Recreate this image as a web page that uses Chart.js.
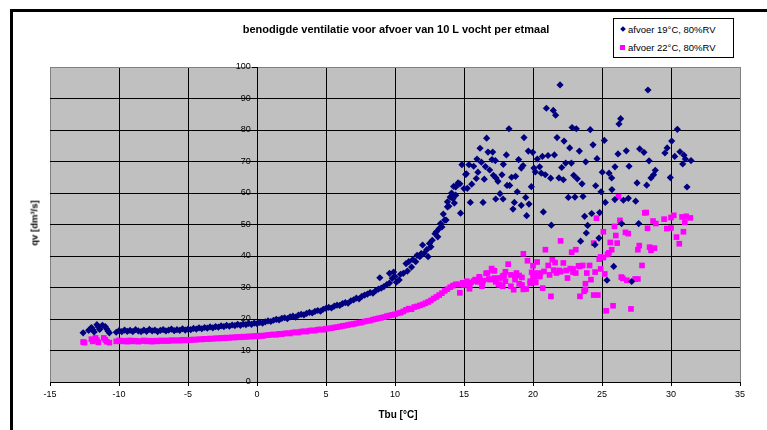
<!DOCTYPE html>
<html>
<head>
<meta charset="utf-8">
<title>benodigde ventilatie voor afvoer van 10 L vocht per etmaal</title>
<script src="https://cdn.jsdelivr.net/npm/chart.js@4/dist/chart.umd.min.js"></script>
<style>
  html, body { margin: 0; padding: 0; background: #fff; }
  #wrap { position: relative; width: 767px; height: 430px; overflow: hidden;
          font-family: "Liberation Sans", Arial, sans-serif; color: #000; }
  #frame { position: absolute; left: 10px; top: 9px; width: 800px; height: 500px;
           border: 3px solid #000; box-sizing: border-box; }
  #c { position: absolute; left: 0; top: 0; }
  #title { position: absolute; left: 0; top: 23px; width: 792px; text-align: center;
           font-weight: bold; font-size: 11px; white-space: nowrap; }
  #ytitle { position: absolute; left: 34px; top: 223px; font-weight: bold; font-size: 9.5px;
            white-space: nowrap; transform: translate(-50%, -50%) rotate(-90deg); }
  #xtitle { position: absolute; left: 398px; top: 414px; font-weight: bold; font-size: 10px;
            white-space: nowrap; transform: translate(-50%, -50%); }
  #legend { position: absolute; left: 613px; top: 18px; width: 121px; height: 40px;
            border: 1px solid #000; background: #fff; box-sizing: border-box;
            font-size: 9.5px; }
  .item { position: absolute; left: 6px; white-space: nowrap; line-height: 11px; }
  .mk { display: inline-block; vertical-align: middle; margin-right: 3px; position: relative; top: -1px; }
  .dia { width: 4px; height: 4px; background: #000080; transform: rotate(45deg); margin-left: 1px; }
  .sq { width: 5px; height: 5px; background: #ff00ff; }
</style>
</head>
<body>
<div id="wrap">
  <div id="frame"></div>
  <canvas id="c" width="767" height="430"></canvas>
  <div id="title">benodigde ventilatie voor afvoer van 10 L vocht per etmaal</div>
  <div id="ytitle">qv [dm³/s]</div>
  <div id="xtitle">Tbu [°C]</div>
  <div id="legend">
    <div class="item" style="top:5px"><span class="mk dia"></span>afvoer 19°C, 80%RV</div>
    <div class="item" style="top:23px"><span class="mk sq"></span>afvoer 22°C, 80%RV</div>
  </div>
</div>
<script>
// Axis ticks
const tbuTicks = [-15, -10, -5, 0, 5, 10, 15, 20, 25, 30, 35];
const qvTicks = [0, 10, 20, 30, 40, 50, 60, 70, 80, 90, 100];

// Series labels
const seriesNames = ['afvoer 19°C, 80%RV', 'afvoer 22°C, 80%RV'];

// afvoer 19°C, 80%RV : [Tbu °C, qv dm³/s]
const afvoer19 = [
  [-12.6,15.6],[-12.2,16.4],[-12.0,17.3],[-11.9,16.6],[-11.8,15.9],[-11.6,18.2],[-11.5,17.5],[-11.4,16.7],
  [-11.2,18.0],[-11.0,17.6],[-10.9,16.9],[-10.8,16.2],[-10.7,15.6],
  [-10.2,15.8],[-10.0,16.3],[-9.8,16.0],[-9.6,16.5],[-9.4,16.1],[-9.2,16.4],[-9.0,16.0],[-8.8,16.6],
  [-8.6,16.2],[-8.4,16.0],[-8.2,16.5],[-8.0,16.1],[-7.8,16.7],[-7.6,16.2],[-7.4,16.5],[-7.2,16.0],
  [-7.0,16.4],[-6.8,16.6],[-6.6,16.2],[-6.4,16.5],[-6.2,16.8],[-6.0,16.3],[-5.8,16.6],[-5.6,16.4],
  [-5.4,16.9],[-5.2,16.5],[-5.0,16.8],[-4.8,16.6],[-4.6,17.0],[-4.4,16.8],[-4.2,17.2],[-4.0,16.9],
  [-3.8,17.3],[-3.6,17.1],[-3.4,17.5],[-3.2,17.2],[-3.0,17.6],[-2.8,17.4],[-2.6,17.8],[-2.4,17.6],
  [-2.2,18.0],[-2.0,17.7],[-1.8,18.1],[-1.6,17.9],[-1.4,18.3],[-1.2,18.0],[-1.0,18.4],[-0.8,18.2],
  [-0.6,18.6],[-0.4,18.3],[-0.2,18.7],[0.0,18.5],[0.2,18.9],[0.4,18.7],[0.6,19.1],[0.8,19.4],
  [1.0,19.2],[1.2,19.6],[1.4,19.9],[1.6,19.7],[1.8,20.2],[2.0,20.4],[2.2,20.1],[2.4,20.7],
  [2.6,20.9],[2.8,20.6],[3.0,21.2],[3.2,21.5],[3.4,21.3],[3.6,21.8],[3.8,22.1],[4.0,21.9],
  [4.2,22.4],[4.4,22.7],[4.6,22.5],[4.8,23.1],[5.0,23.4],[5.2,23.7],[5.4,23.5],[5.6,24.1],
  [5.8,24.4],[6.0,24.3],[6.2,24.9],[6.4,25.2],[6.6,25.0],[6.8,25.8],[7.0,26.1],[7.2,26.6],
  [7.4,26.4],[7.6,27.2],[7.8,27.6],[8.0,27.9],[8.2,28.4],[8.4,28.2],[8.6,29.0],[8.8,29.5],
  [8.9,33.1],[9.0,29.8],[9.2,30.3],[9.4,30.9],[9.6,31.4],[9.6,34.5],[9.8,32.9],[9.9,34.9],
  [10.0,33.5],[10.1,31.7],[10.3,32.4],[10.4,34.2],[10.6,34.5],[10.8,37.6],[10.9,35.2],[11.0,38.2],
  [11.2,36.5],[11.3,38.9],[11.5,38.2],[11.6,40.2],[11.8,39.8],[11.9,40.8],[12.0,43.5],[12.1,40.8],
  [12.3,42.0],[12.4,39.8],[12.5,44.0],[12.6,42.9],[12.7,45.0],[12.9,47.1],[13.0,47.7],[13.1,46.1],
  [13.2,48.7],[13.3,50.3],[13.4,49.2],[13.5,53.3],[13.6,51.4],[13.7,51.4],[13.8,55.6],[13.8,57.2],
  [13.9,55.8],[14.0,58.7],[14.1,58.9],[14.2,58.2],[14.3,56.8],[14.1,60.0],[14.25,62.1],
  [14.4,61.9],[14.4,59.3],[14.57,63.2],[14.7,62.9],[14.75,53.6],[14.85,69.0],[15.0,61.4],[15.12,65.9],
  [21.96,94.3],[28.33,92.7],[20.97,86.9],[21.47,86.2],[21.64,84.7],[26.35,83.6],[26.23,81.9],[18.26,80.4],
  [22.83,80.8],[23.14,80.4],[24.15,80.1],[30.46,80.2],[16.64,77.4],[19.35,77.6],[21.74,77.6],[22.25,76.5],
  [25.17,76.7],[30.05,76.5],[24.35,75.3],[16.16,74.2],[22.66,74.3],[29.72,74.3],[27.73,74.0],[16.74,73.0],
  [17.08,73.0],[19.66,73.3],[19.98,72.9],[23.36,73.3],[26.76,73.4],[28.04,72.9],[29.56,72.7],[30.65,73.1],
  [18.07,72.1],[26.16,72.4],[30.27,71.6],[20.68,71.6],[21.09,71.9],[21.55,72.1],[30.94,72.0],[15.94,70.8],
  [18.96,70.6],[20.31,70.8],[24.64,70.9],[17.27,70.3],[16.26,69.8],[17.03,70.6],[23.82,69.9],[28.41,70.2],
  [31.04,70.8],[31.45,70.3],[15.36,69.0],[15.70,68.5],[16.55,68.4],[17.85,69.1],[19.28,68.7],[19.15,67.9],
  [20.07,67.9],[20.48,68.3],[22.08,68.1],[22.37,69.5],[22.78,69.5],[25.94,68.3],[26.96,68.5],[30.85,69.2],
  [15.17,66.1],[16.01,66.6],[16.86,67.3],[20.17,66.7],[20.60,66.3],[20.89,65.8],[25.02,66.6],[25.51,66.3],
  [28.86,67.2],[28.74,65.8],[17.13,65.6],[17.32,64.8],[17.75,65.8],[18.45,65.0],[18.74,65.3],[15.89,64.6],
  [16.47,64.4],[17.46,63.7],[21.28,64.7],[21.88,64.8],[22.20,64.2],[22.95,65.6],[23.21,64.5],[25.70,64.8],
  [28.55,64.8],[29.95,64.9],[15.56,62.8],[18.12,62.4],[18.31,62.4],[23.55,62.9],[24.54,62.3],[27.54,63.2],
  [28.24,62.5],[19.88,62.0],[15.24,61.5],[25.72,61.1],[18.86,60.4],[24.93,60.4],[31.16,61.9],[17.61,59.8],
  [22.56,58.6],[23.04,58.7],[23.62,58.9],[19.47,58.6],[17.30,58.1],[17.83,58.1],[25.93,57.9],[26.91,58.3],
  [26.55,57.7],[27.44,57.4],[15.46,57.0],[16.38,57.0],[18.65,57.0],[19.71,56.5],[19.15,56.1],[25.24,57.0],
  [18.55,54.9],[19.54,52.8],[20.75,54.0],[23.74,52.6],[24.25,53.5],[24.83,53.8],[21.33,49.8],[23.96,49.7],
  [26.42,50.3],[27.66,50.3],[23.86,47.3],[24.78,45.7],[23.45,44.7],[24.49,43.6],[25.85,36.7],[25.36,32.3],
  [27.15,31.9]
];

// afvoer 22°C, 80%RV : [Tbu °C, qv dm³/s]
const afvoer22 = [
  [-12.6,12.7],[-12.5,12.5],[-12.0,13.6],[-11.9,12.9],[-11.7,14.0],[-11.6,13.3],[-11.5,12.6],[-11.1,14.0],
  [-11.0,13.4],[-10.9,12.8],[-10.7,12.5],
  [-10.2,12.9],[-10.0,13.2],[-9.8,12.9],[-9.6,13.1],[-9.4,12.8],[-9.2,13.2],[-9.0,12.9],[-8.8,13.1],
  [-8.6,12.8],[-8.4,13.0],[-8.2,13.2],[-8.0,12.9],[-7.8,13.1],[-7.6,12.8],[-7.4,13.1],[-7.2,12.9],
  [-7.0,13.2],[-6.8,13.0],[-6.6,13.2],[-6.4,13.0],[-6.2,13.3],[-6.0,13.1],[-5.8,13.3],[-5.6,13.1],
  [-5.4,13.4],[-5.2,13.2],[-5.0,13.4],[-4.8,13.3],[-4.6,13.5],[-4.4,13.4],[-4.2,13.6],[-4.0,13.5],
  [-3.8,13.7],[-3.6,13.6],[-3.4,13.8],[-3.2,13.7],[-3.0,13.9],[-2.8,13.8],[-2.6,14.0],[-2.4,13.9],
  [-2.2,14.1],[-2.0,14.0],[-1.8,14.2],[-1.6,14.1],[-1.4,14.3],[-1.2,14.2],[-1.0,14.4],[-0.8,14.3],
  [-0.6,14.5],[-0.4,14.4],[-0.2,14.6],[0.0,14.5],[0.2,14.7],[0.4,14.6],[0.6,14.8],[0.8,14.9],
  [1.0,15.0],[1.2,15.1],[1.4,15.0],[1.6,15.3],[1.8,15.2],[2.0,15.4],[2.2,15.5],[2.4,15.4],
  [2.6,15.7],[2.8,15.8],[3.0,15.7],[3.2,16.0],[3.4,16.1],[3.6,16.0],[3.8,16.3],[4.0,16.4],
  [4.2,16.3],[4.4,16.6],[4.6,16.7],[4.8,16.6],[5.0,16.9],[5.2,17.0],[5.4,17.1],[5.6,17.3],
  [5.8,17.4],[6.0,17.6],[6.2,17.8],[6.4,17.9],[6.6,18.1],[6.8,18.3],[7.0,18.4],[7.2,18.6],
  [7.4,18.8],[7.6,18.9],[7.8,19.2],[8.0,19.4],[8.2,19.5],[8.4,19.8],[8.6,20.0],[8.8,20.2],
  [9.0,20.4],[9.2,20.6],[9.4,20.9],[9.6,21.1],[9.8,21.3],[10.0,21.5],[10.2,21.8],[10.4,22.0],
  [10.6,22.4],[10.8,22.9],[11.0,23.3],[11.2,23.1],[11.4,23.8],[11.6,24.0],[11.8,24.3],[12.0,24.6],
  [12.2,25.0],[12.4,25.4],[12.6,25.9],[12.8,26.5],[13.0,27.0],[13.2,27.6],[13.4,28.2],[13.6,28.9],
  [13.8,29.5],[14.0,30.1],[14.2,30.6],[14.4,31.0],
  [14.6,31.0],[14.7,28.3],[14.9,31.5],[15.0,30.8],[15.2,32.0],[15.4,29.6],[15.4,30.4],[15.5,31.6],
  [15.7,32.0],[15.8,32.5],[16.0,31.8],[16.1,33.4],[16.14,33.0],[16.3,30.4],[16.33,31.2],[16.4,32.2],
  [16.6,34.5],[16.7,34.6],[16.8,32.7],[16.9,32.5],[17.0,36.0],[17.1,35.4],[17.2,35.3],[17.22,33.0],
  [17.3,31.8],[17.5,31.0],[17.58,30.9],[17.6,33.0],[17.8,30.4],[17.8,33.6],[17.9,33.8],[18.0,35.0],
  [18.0,32.0],[18.2,37.4],[18.4,30.4],[18.4,34.0],[18.6,29.3],[18.7,32.5],[18.7,33.5],[18.8,34.6],
  [19.0,31.2],[19.0,33.8],[19.2,30.8],[19.3,29.4],[19.2,33.2],[19.3,40.7],[19.5,29.5],[19.6,38.5],
  [19.8,32.0],[19.8,31.3],[19.9,34.8],[20.0,36.9],[20.0,33.0],[20.1,33.3],[20.1,34.6],[20.2,31.6],
  [20.3,38.1],[20.5,34.6],[20.5,33.5],[20.7,29.8],[20.8,35.1],[20.9,42.0],[21.1,37.0],[21.2,34.0],
  [21.3,27.2],[21.4,38.8],[21.5,35.5],[21.6,37.9],[21.7,34.6],[21.9,35.4],[22.0,44.8],[22.0,35.0],
  [22.2,37.8],[22.4,35.4],[22.5,33.0],[22.7,36.0],[22.8,41.2],[22.9,35.9],[22.9,34.9],[23.1,42.0],
  [23.1,34.6],[23.3,36.9],[23.4,36.7],[23.4,27.2],[23.6,37.0],[23.7,28.8],[23.8,31.2],[23.8,29.3],
  [23.9,34.6],[24.1,37.0],[24.2,32.5],[24.4,44.1],[24.4,27.6],[24.5,34.9],[24.6,52.0],[24.7,27.6],
  [24.8,39.0],[24.9,39.7],[24.9,35.9],[25.1,47.7],[25.1,39.5],[25.2,34.3],[25.3,22.6],[25.4,40.5],
  [25.5,41.0],[25.6,44.3],[25.7,42.0],[25.8,24.2],[25.9,49.4],[26.0,46.5],[26.1,44.1],[26.2,58.8],
  [26.3,51.3],[26.4,33.3],[26.5,32.9],[26.7,47.5],[26.8,32.3],[26.9,47.1],[27.1,23.2],[27.4,32.7],
  [27.6,42.0],[27.6,32.7],[27.7,43.3],[27.9,37.0],[28.1,53.7],[28.2,53.8],[28.3,48.8],[28.45,42.8],
  [28.55,41.8],[28.7,51.1],[28.8,42.5],[28.9,50.3],[29.5,51.7],[29.7,48.7],[30.0,52.2],[30.0,48.9],
  [30.2,52.9],[30.4,46.0],[30.6,43.9],[30.8,52.4],[30.9,47.7],[31.0,50.7],[31.1,52.6],[31.4,52.1]
];

// Grey plot area behind the grid
const plotBackground = {
  id: 'plotBackground',
  beforeDraw(chart) {
    const { ctx, chartArea: a } = chart;
    ctx.save();
    ctx.fillStyle = '#c0c0c0';
    ctx.fillRect(a.left, a.top, a.right - a.left, a.bottom - a.top);
    ctx.restore();
  }
};

const tickFont = { family: '"Liberation Sans", Arial, sans-serif', size: 9 };
const toPoints = rows => rows.map(([x, y]) => ({ x, y }));

new Chart(document.getElementById('c'), {
  type: 'scatter',
  data: {
    datasets: [
      {
        label: seriesNames[0],
        data: toPoints(afvoer19),
        pointStyle: 'rectRot',
        pointRadius: 3.6,
        backgroundColor: '#000080',
        borderColor: '#000080',
        borderWidth: 0
      },
      {
        label: seriesNames[1],
        data: toPoints(afvoer22),
        pointStyle: 'rect',
        pointRadius: 4,
        backgroundColor: '#ff00ff',
        borderColor: '#ff00ff',
        borderWidth: 0
      }
    ]
  },
  options: {
    responsive: false,
    animation: false,
    events: [],
    layout: { padding: { left: 50, right: 27, top: 67, bottom: 0 } },
    plugins: {
      legend: { display: false },
      tooltip: { enabled: false },
      title: { display: false }
    },
    scales: {
      x: {
        type: 'linear',
        min: tbuTicks[0],
        max: tbuTicks[tbuTicks.length - 1],
        afterBuildTicks: s => { s.ticks = tbuTicks.map(v => ({ value: v })); },
        afterFit: s => { s.height = 48; },
        grid: {
          color: c => (c.tick && (c.tick.value === tbuTicks[0] || c.tick.value === tbuTicks[tbuTicks.length - 1])) ? '#808080' : '#000',
          lineWidth: 1,
          tickLength: 4,
          tickColor: '#000'
        },
        border: { color: '#000', width: 1 },
        ticks: { font: tickFont, color: '#000', padding: 3, maxRotation: 0, autoSkip: false }
      },
      y: {
        type: 'linear',
        min: qvTicks[0],
        max: qvTicks[qvTicks.length - 1],
        position: { x: 0 },
        afterBuildTicks: s => { s.ticks = qvTicks.map(v => ({ value: v })); },
        grid: {
          color: c => (c.tick && c.tick.value === qvTicks[qvTicks.length - 1]) ? '#808080' : '#000',
          lineWidth: 1,
          tickLength: 5,
          tickColor: '#000'
        },
        border: { color: '#000', width: 1 },
        ticks: {
          font: tickFont, color: '#000', autoSkip: false,
          callback: v => v + '\u2002\u2009'
        }
      }
    }
  },
  plugins: [plotBackground]
});
</script>
</body>
</html>
